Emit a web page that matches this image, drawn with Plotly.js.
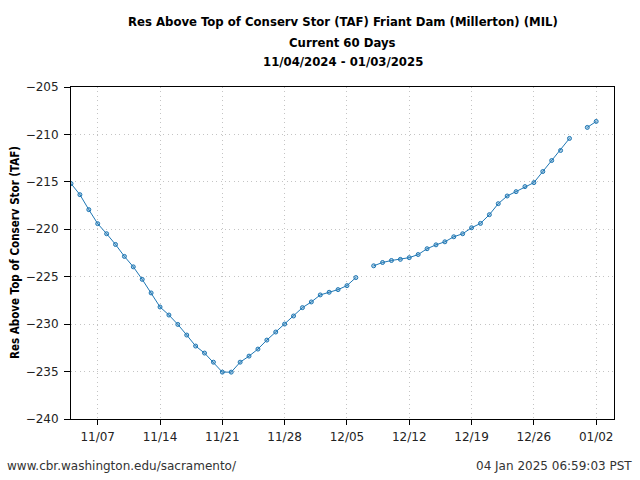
<!DOCTYPE html>
<html><head><meta charset="utf-8">
<script src="https://cdn.plot.ly/plotly-3.0.1.min.js"></script>
<style>html,body{margin:0;padding:0;background:#fff}#chart{width:640px;height:480px}</style>
</head><body><div id="chart"></div>
<script>
const dates = [
 "2024-11-04","2024-11-05","2024-11-06","2024-11-07","2024-11-08","2024-11-09","2024-11-10",
 "2024-11-11","2024-11-12","2024-11-13","2024-11-14","2024-11-15","2024-11-16","2024-11-17",
 "2024-11-18","2024-11-19","2024-11-20","2024-11-21","2024-11-22","2024-11-23","2024-11-24",
 "2024-11-25","2024-11-26","2024-11-27","2024-11-28","2024-11-29","2024-11-30","2024-12-01",
 "2024-12-02","2024-12-03","2024-12-04","2024-12-05","2024-12-06","2024-12-07","2024-12-08",
 "2024-12-09","2024-12-10","2024-12-11","2024-12-12","2024-12-13","2024-12-14","2024-12-15",
 "2024-12-16","2024-12-17","2024-12-18","2024-12-19","2024-12-20","2024-12-21","2024-12-22",
 "2024-12-23","2024-12-24","2024-12-25","2024-12-26","2024-12-27","2024-12-28","2024-12-29",
 "2024-12-30","2024-12-31","2025-01-01","2025-01-02","2025-01-03"];
const values = [
 -215.18,-216.35,-217.93,-219.41,-220.47,-221.60,-222.86,
 -223.96,-225.28,-226.71,-228.19,-229.04,-230.03,-231.15,
 -232.31,-233.05,-234.01,-235.06,-235.06,-234.01,-233.37,
 -232.63,-231.68,-230.83,-229.99,-229.14,-228.26,-227.66,
 -226.92,-226.64,-226.36,-225.94,-225.09,null,-223.85,
 -223.50,-223.29,-223.17,-222.99,-222.66,-222.05,-221.64,
 -221.32,-220.79,-220.47,-219.84,-219.38,-218.46,-217.30,
 -216.49,-216.03,-215.50,-215.08,-213.91,-212.75,-211.69,
 -210.42,null,-209.26,-208.63,null];
const titleLines = ["Res Above Top of Conserv Stor (TAF) Friant Dam (Millerton) (MIL)",
 "Current 60 Days","11/04/2024 - 01/03/2025"];
const yTitle = "Res Above Top of Conserv Stor (TAF)";
const footerLeft = "www.cbr.washington.edu/sacramento/";
const footerRight = "04 Jan 2025 06:59:03 PST";

const condensed = "DejaVu Sans Condensed, DejaVu Sans";
const titleY = [1.1958, 1.1355, 1.0783];
const annotations = titleLines.map((t,i)=>({text:"<b>"+t+"</b>", xref:"paper", yref:"paper",
  x:0.5, y:titleY[i], xanchor:"center", yanchor:"middle", showarrow:false,
  font:{family:condensed, size:13, color:"#000"}}));
annotations.push({text:"<b>"+yTitle+"</b>", xref:"paper", yref:"paper", x:-0.1031, y:0.5,
  xanchor:"center", yanchor:"middle", textangle:-90, showarrow:false,
  font:{family:condensed, size:11.5, color:"#000"}});
annotations.push({text:footerLeft, xref:"paper", yref:"paper", x:-0.1215, y:-0.1416,
  xanchor:"left", yanchor:"middle", showarrow:false, font:{family:"DejaVu Sans", size:12, color:"#333"}});
annotations.push({text:footerRight, xref:"paper", yref:"paper", x:1.037, y:-0.1416,
  xanchor:"right", yanchor:"middle", showarrow:false, font:{family:"DejaVu Sans", size:12, color:"#333"}});

const trace = {x:dates, y:values, type:"scatter", mode:"lines+markers",
  line:{color:"#1f77b4", width:1}, connectgaps:false,
  marker:{symbol:"circle", size:4, color:"rgba(31,119,180,0.35)", line:{color:"#1f77b4", width:1}}};

const grid = {showgrid:true, gridcolor:"#c4c4c4", griddash:"1px,3.4px", gridwidth:1, zeroline:false};
const layout = {width:640, height:480, margin:{l:71, r:26, t:87, b:61},
  paper_bgcolor:"#fff", plot_bgcolor:"#fff", showlegend:false,
  font:{family:"DejaVu Sans", size:12, color:"#000"},
  xaxis:Object.assign({type:"date", range:["2024-11-04","2025-01-04"], tick0:"2024-11-07", dtick:7*86400000,
    tickformat:"%m/%d", ticks:"outside", ticklen:5, tickcolor:"#000", showline:true, linecolor:"#000",
    linewidth:1, mirror:true, ticklabelstandoff:2, tickfont:{family:"DejaVu Sans", size:12, color:"#222"}}, grid),
  yaxis:Object.assign({range:[-240,-205], dtick:5, tick0:-240, ticks:"outside", ticklen:6, tickcolor:"#000",
    showline:true, linecolor:"#000", linewidth:1, mirror:true, ticklabelstandoff:3,
    tickfont:{family:"DejaVu Sans", size:12, color:"#222"}}, grid),
  annotations:annotations};
Plotly.newPlot("chart", [trace], layout, {displayModeBar:false, staticPlot:true});
</script></body></html>
